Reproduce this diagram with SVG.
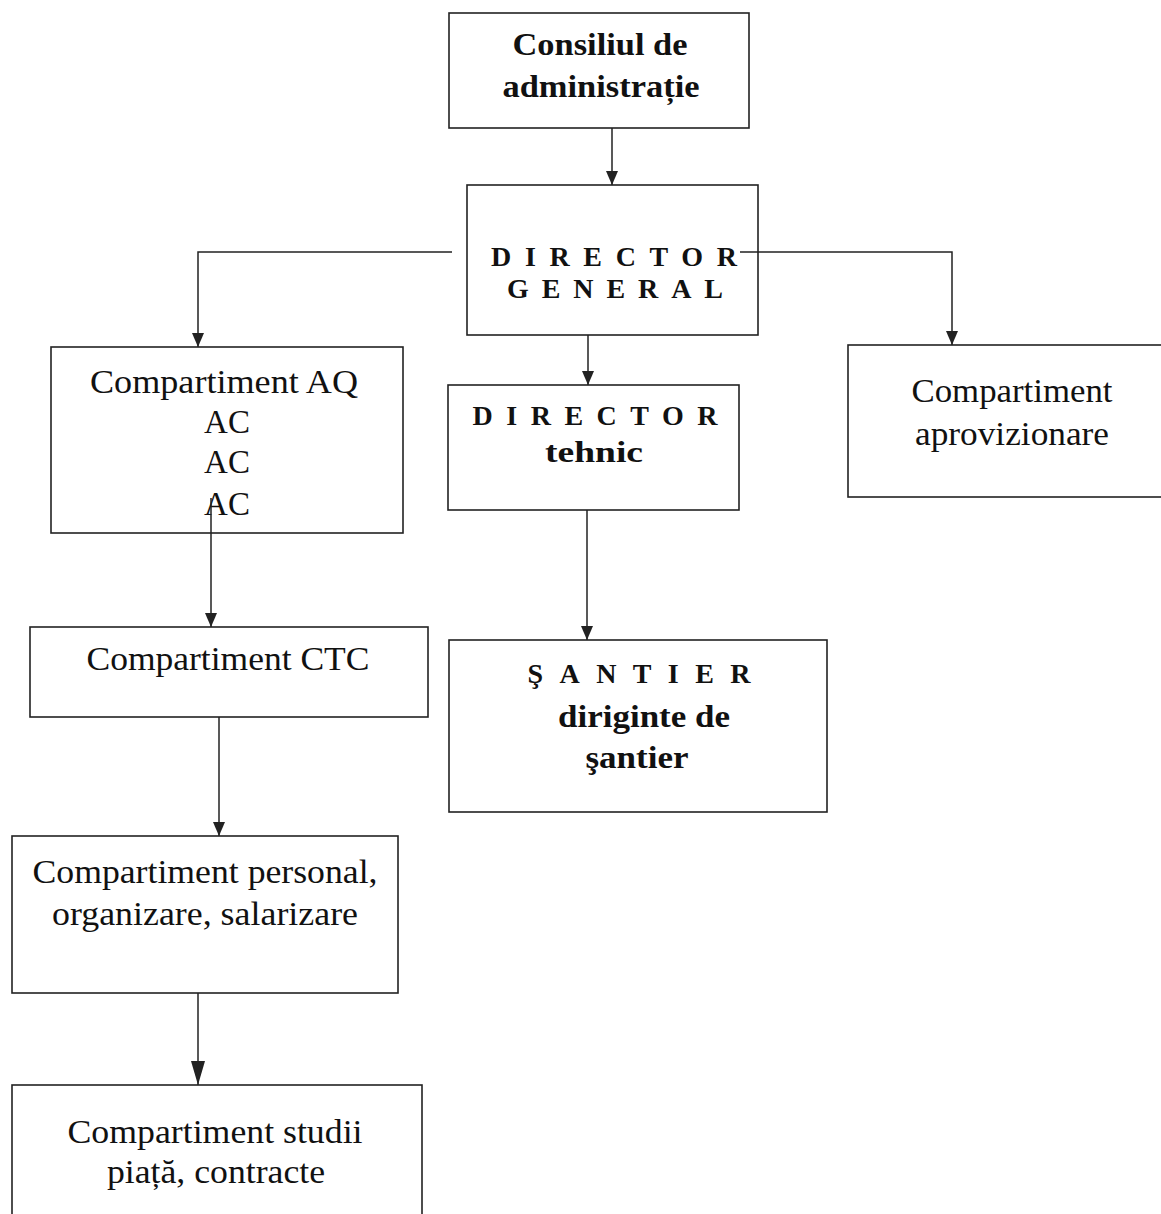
<svg xmlns="http://www.w3.org/2000/svg" width="1161" height="1214" viewBox="0 0 1161 1214">
<style>
.box{fill:#fff;stroke:#222;stroke-width:1.6}
.ln{fill:none;stroke:#222;stroke-width:1.5}
.t{font-family:"Liberation Serif",serif;font-size:33px;fill:#111;text-anchor:middle}
.b{font-family:"Liberation Serif",serif;font-weight:bold;fill:#111;text-anchor:middle}
</style>
<defs>
<marker id="ah" viewBox="0 0 14 12" refX="14" refY="6" markerWidth="14" markerHeight="12" markerUnits="userSpaceOnUse" orient="auto">
<path d="M0,0 L14,6 L0,12 z" fill="#222"/>
</marker>
<marker id="ahL" viewBox="0 0 24 14" refX="24" refY="7" markerWidth="24" markerHeight="14" markerUnits="userSpaceOnUse" orient="auto">
<path d="M0,0 L24,7 L0,14 z" fill="#222"/>
</marker>
</defs>
<rect width="1161" height="1214" fill="#fff"/>
<g id="consiliul">
<rect class="box" x="449" y="13" width="300" height="115"/>
<text class="b" x="600" y="55" font-size="32" textLength="175" lengthAdjust="spacingAndGlyphs">Consiliul de</text>
<text class="b" x="601" y="97" font-size="32" textLength="197" lengthAdjust="spacingAndGlyphs">administrație</text>
</g>
<g id="director-general">
<rect class="box" x="467" y="185" width="291" height="150"/>
<text class="b" x="614" y="266" font-size="28" textLength="246" lengthAdjust="spacing">DIRECTOR</text>
<text class="b" x="615" y="298" font-size="28" textLength="216" lengthAdjust="spacing">GENERAL</text>
</g>
<g id="compartiment-aq">
<rect class="box" x="51" y="347" width="352" height="186"/>
<text class="t" x="224" y="393" textLength="268" lengthAdjust="spacingAndGlyphs">Compartiment AQ</text>
<text class="t" x="227" y="433">AC</text>
<text class="t" x="227" y="473">AC</text>
<text class="t" x="227" y="515">AC</text>
</g>
<g id="director-tehnic">
<rect class="box" x="448" y="385" width="291" height="125"/>
<text class="b" x="595" y="425" font-size="28" textLength="245" lengthAdjust="spacing">DIRECTOR</text>
<text class="b" x="594" y="462" font-size="29" textLength="98" lengthAdjust="spacingAndGlyphs">tehnic</text>
</g>
<g id="compartiment-aprovizionare">
<rect class="box" x="848" y="345" width="320" height="152"/>
<text class="t" x="1012" y="402" textLength="201" lengthAdjust="spacingAndGlyphs">Compartiment</text>
<text class="t" x="1012" y="445" textLength="194" lengthAdjust="spacingAndGlyphs">aprovizionare</text>
</g>
<g id="compartiment-ctc">
<rect class="box" x="30" y="627" width="398" height="90"/>
<text class="t" x="228" y="670" textLength="283" lengthAdjust="spacingAndGlyphs">Compartiment CTC</text>
</g>
<g id="santier">
<rect class="box" x="449" y="640" width="378" height="172"/>
<text class="b" x="639" y="683" font-size="28" textLength="223" lengthAdjust="spacing">ŞANTIER</text>
<text class="b" x="644" y="727" font-size="31" textLength="172" lengthAdjust="spacingAndGlyphs">diriginte de</text>
<text class="b" x="637" y="768" font-size="31" textLength="103" lengthAdjust="spacingAndGlyphs">şantier</text>
</g>
<g id="compartiment-personal">
<rect class="box" x="12" y="836" width="386" height="157"/>
<text class="t" x="205" y="883" textLength="345" lengthAdjust="spacingAndGlyphs">Compartiment personal,</text>
<text class="t" x="205" y="925" textLength="306" lengthAdjust="spacingAndGlyphs">organizare, salarizare</text>
</g>
<g id="compartiment-studii">
<rect class="box" x="12" y="1085" width="410" height="140"/>
<text class="t" x="215" y="1143" textLength="295" lengthAdjust="spacingAndGlyphs">Compartiment studii</text>
<text class="t" x="216" y="1183" textLength="218" lengthAdjust="spacingAndGlyphs">piață, contracte</text>
</g>
<g id="connectors">
<path class="ln" d="M612,128 V185" marker-end="url(#ah)"/>
<path class="ln" d="M452,252 H198 V347" marker-end="url(#ah)"/>
<path class="ln" d="M740,252 H952 V345" marker-end="url(#ah)"/>
<path class="ln" d="M588,335 V385" marker-end="url(#ah)"/>
<path class="ln" d="M211,498 V627" marker-end="url(#ah)"/>
<path class="ln" d="M219,717 V836" marker-end="url(#ah)"/>
<path class="ln" d="M198,993 V1085" marker-end="url(#ahL)"/>
<path class="ln" d="M587,510 V640" marker-end="url(#ah)"/>
</g>
</svg>
